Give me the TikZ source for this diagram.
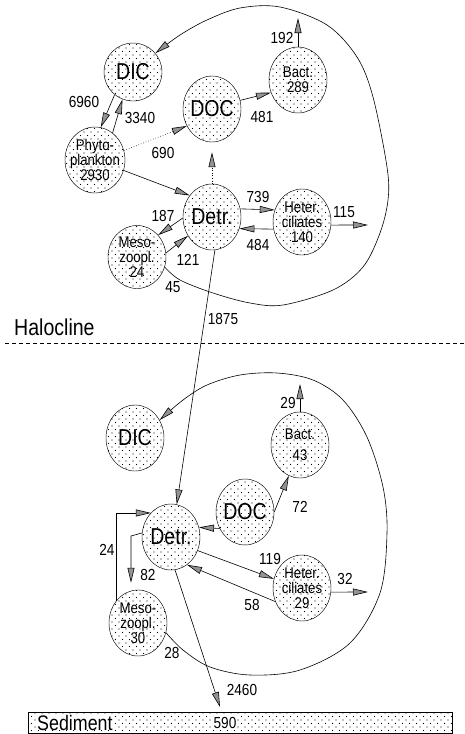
\documentclass[tikz,border=0pt]{standalone}
\usepackage{fontspec}
\setmainfont{Liberation Sans}
\newfontfamily\lab[FakeStretch=0.85]{Liberation Sans}
\usetikzlibrary{arrows.meta,shapes.geometric,patterns}
\pgfdeclarepatternformonly{sdots}{\pgfqpoint{-1pt}{-1pt}}{\pgfqpoint{8pt}{8pt}}{\pgfqpoint{7pt}{7pt}}{%
  \pgfpathcircle{\pgfqpoint{0pt}{0pt}}{0.55pt}%
  \pgfpathcircle{\pgfqpoint{3.5pt}{3.5pt}}{0.55pt}%
  \pgfusepath{fill}}
\begin{document}
\begin{tikzpicture}[x=1pt,y=-1pt,
  pool/.style={ellipse, draw, line width=0.45pt, pattern=sdots, minimum width=58pt,
    minimum height=66pt, inner sep=-8pt, align=center,
    font=\lab\fontsize{15.5}{15}\selectfont},
  big/.style={font=\lab\fontsize{23}{23}\selectfont},
  num/.style={font=\lab\fontsize{16}{16}\selectfont, inner sep=0pt},
  flow/.style={line width=0.6pt, -{Triangle[length=15pt,width=7pt,fill=gray!85]}},
  dflow/.style={flow, dotted}]
\useasboundingbox (0,0) rectangle (465,734);

% ---------- upper layer ----------
\node[pool,big,minimum height=58pt] (dic1) at (133,72) {DIC};
\node[pool,big] (doc1) at (212,109) {DOC};
\node[pool] (bac1) at (298,80) {Bact.\\289};
\node[pool,minimum width=60pt] (phy) at (95,160) {Phyto-\\plankton\\2930};
\node[pool,big] (det1) at (212,217) {Detr.};
\node[pool,minimum height=63pt] (mes1) at (137,257) {Meso-\\zoopl.\\24};
\node[pool] (het1) at (302,222) {Heter.\\ciliates\\140};

\coordinate (bacout1) at (298,18);
\coordinate (hetout1) at (368,225);

\draw[flow] (dic1.231) -- (phy.80);
\draw[flow] (phy.57) -- (dic1.249);
\draw[dflow] (phy.18) -- (doc1.214);
\draw[flow] (phy.-20) -- (det1.136);
\draw[dflow, shorten >=10pt] (det1.90) -- (doc1.270);
\draw[flow] (doc1.17) -- (bac1.205);
\draw[flow] (bac1.90) -- (bacout1);
\draw[flow] (det1.16) -- (het1.156);
\draw[flow] (het1.194) -- (det1.-23);
\draw[flow] (het1.-6) -- (hetout1);
\draw[flow] (det1.182) -- (mes1.46);
\draw[flow] (mes1.8) -- (det1.218);

\draw[flow] plot[smooth, tension=0.55] coordinates {(mes1.-20) (180,280) (213,293) (250,303)
  (283,305) (333,290) (363,267) (380,233) (388,200) (387,167) (373,97) (357,57) (327,25)
  (280,7) (240,8) (207,20) (180,35) (dic1.40)};

\node[num] (l6960) at (84,102) {6960};
\node[num] (l3340) at (140,118) {3340};
\node[num] (l690) at (163,153) {690};
\node[num] (l481) at (262,117) {481};
\node[num] (l192) at (282,38) {192};
\node[num] (l739) at (258,197) {739};
\node[num] (l484) at (258,245) {484};
\node[num] (l115) at (344,212) {115};
\node[num] (l187) at (163,216) {187};
\node[num] (l121) at (188,260) {121};
\node[num] (l45) at (173,287) {45};
\node[num] (l1875) at (223,319) {1875};

% ---------- halocline ----------
\node[big, anchor=west, inner sep=0pt] (halo) at (14,327) {Halocline};
\draw[line width=0.6pt, dash pattern=on 4pt off 3pt] (5,343) -- (465,343);

% ---------- lower layer ----------
\node[pool,big] (dic2) at (135,438) {DIC};
\node[pool] (bac2) at (300,445) {Bact.\\[6pt]43};
\node[pool,big] (doc2) at (245,512) {DOC};
\node[pool,big] (det2) at (171,537) {Detr.};
\node[pool] (het2) at (302,588) {Heter.\\ciliates\\29};
\node[pool] (mes2) at (138,623) {Meso-\\zoopl.\\30};

\draw[flow] (det1.275) -- (det2.80);

\coordinate (bacout2) at (300,384);
\coordinate (hetout2) at (368,592);
\coordinate (k82) at (131,536);
\coordinate (sedin) at (220,707);

\draw[flow] (bac2.90) -- (bacout2);
\draw[flow] (doc2.0) -- (bac2.250);
\draw[flow] (doc2.213) -- (det2.19);
\draw[flow] (mes2.135) |- (det2.130);
\draw[flow, shorten >=7pt] (det2.172) -- (k82) -- (k82 |- mes2.north);
\draw[flow] (det2.-27) -- (het2.162);
\draw[flow] (het2.207) -- (det2.-60);
\draw[flow] (het2.-8) -- (hetout2);
\draw[flow] (det2.-83) -- (sedin);

\draw[flow] plot[smooth, tension=0.55] coordinates {(mes2.-19) (183,650) (210,667) (250,675)
  (300,670) (350,643) (380,593) (387,533) (383,487) (367,437) (343,400) (313,380)
  (277,373) (240,375) (207,385) (183,400) (dic2.36)};

\node[num] (l29) at (288,403) {29};
\node[num] (l72) at (300,507) {72};
\node[num] (l24) at (107,550) {24};
\node[num] (l82) at (148,575) {82};
\node[num] (l119) at (270,559) {119};
\node[num] (l58) at (252,605) {58};
\node[num] (l32) at (345,579) {32};
\node[num] (l28) at (172,653) {28};
\node[num] (l2460) at (242,690) {2460};

% ---------- sediment ----------
\node[draw, pattern=sdots, line width=0.6pt, minimum width=424pt, minimum height=21pt,
  inner sep=0pt] (sed) at (240,723) {};
\node[anchor=west, fill=white, inner sep=0pt, font=\lab\fontsize{21}{21}\selectfont]
  (sedt) at (37,722.5) {Sediment};
\node[num, fill=white, inner sep=1pt] (sedv) at (225,723) {590};
\end{tikzpicture}
\end{document}
